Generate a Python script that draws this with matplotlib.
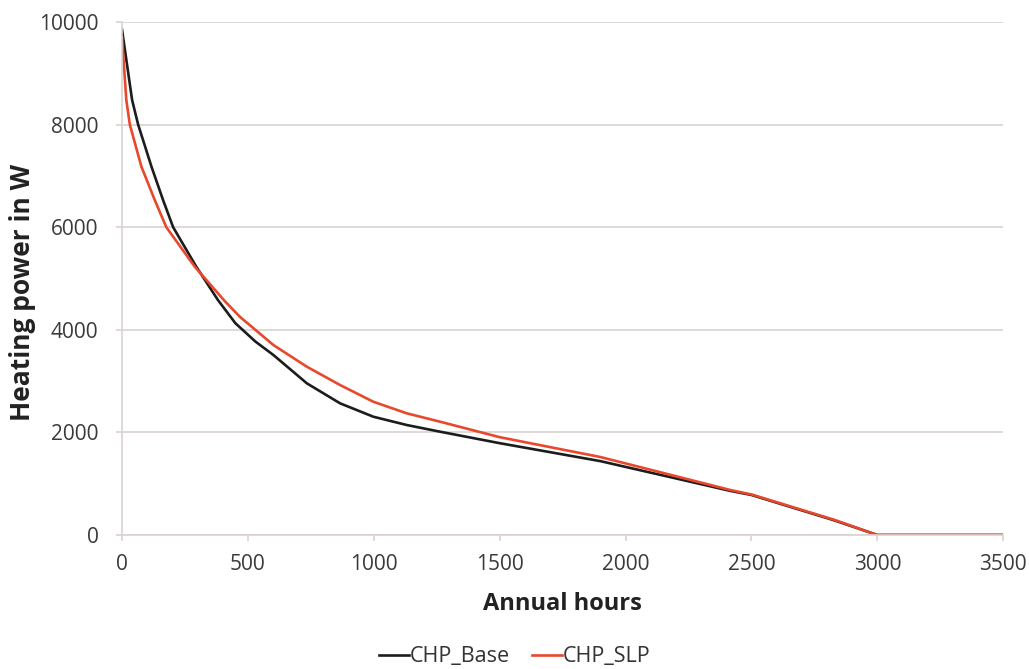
import matplotlib
matplotlib.use("Agg")
import matplotlib.pyplot as plt
import numpy as np

plt.rcParams['font.family'] = ['Open Sans', 'DejaVu Sans']

# duration curves
base_hours = [0, 40, 64, 117, 163, 203, 295, 381, 450, 530, 601, 734, 866,
              998, 1131, 1263, 1500, 1900, 2416, 2500, 2826, 3000, 3500]
base_power = [9850, 8480, 8000, 7180, 6530, 6000, 5230, 4580, 4130, 3770, 3510, 2957, 2567,
              2306, 2144, 2014, 1790, 1440, 860, 780, 290, 0, 0]

slp_hours = [0, 17, 31, 77, 130, 176, 289, 408, 469, 601, 734, 866,
             998, 1131, 1263, 1500, 1900, 2416, 2500, 2826, 3000, 3500]
slp_power = [9700, 8480, 8000, 7180, 6530, 6000, 5230, 4560, 4250, 3704, 3281, 2924,
             2598, 2372, 2209, 1907, 1520, 877, 790, 300, 0, 0]

fig = plt.figure(figsize=(10.29, 6.69), dpi=100)
ax = fig.add_axes([0.1186, 0.2003, 0.8564, 0.7667])

grid_col = '#d9d2cf'
ax.plot(base_hours, base_power, color='#1c1c1c', lw=1.9, label='CHP_Base')
ax.plot(slp_hours, slp_power, color='#e8482c', lw=1.9, label='CHP_SLP')

ax.set_xlim(0, 3500)
ax.set_ylim(0, 10000)
ax.set_xticks(np.arange(0, 3501, 500))
ax.set_yticks(np.arange(0, 10001, 2000))
ax.yaxis.grid(True, color=grid_col, lw=1.2)
ax.set_axisbelow(True)

for s in ['top', 'right']:
    ax.spines[s].set_visible(False)
ax.spines['left'].set_color(grid_col)
ax.spines['bottom'].set_color(grid_col)
ax.spines['left'].set_linewidth(1.2)
ax.spines['bottom'].set_linewidth(1.2)
ax.tick_params(axis='both', colors=grid_col, length=4, width=1.2, labelsize=15,
               labelcolor='#3a3a3a')
ax.tick_params(axis='x', pad=10)
ax.tick_params(axis='y', pad=13)

ax.set_xlabel('Annual hours', fontsize=17, fontweight='bold', color='#222222', labelpad=12)
fig.text(0.022, 0.563, 'Heating power in W', rotation=90, fontsize=19, fontweight='bold',
         color='#222222', ha='center', va='center')

leg = fig.legend(loc='center', bbox_to_anchor=(0.5, 0.018), ncol=2, frameon=False,
                 fontsize=15.5, handlelength=1.4, handletextpad=0.05, columnspacing=1.0)
for t in leg.get_texts():
    t.set_color('#333333')

fig.savefig('out.png', dpi=100)
